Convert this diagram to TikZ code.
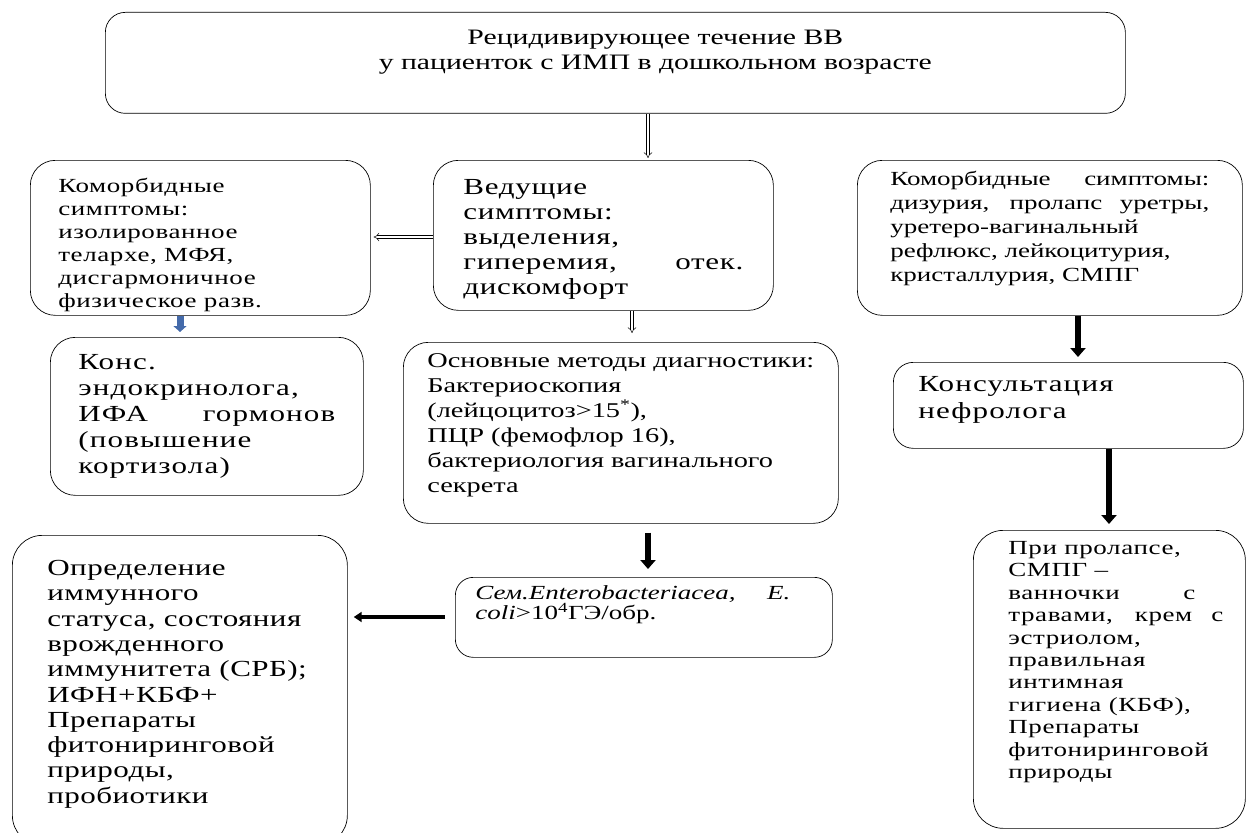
\documentclass[tikz,border=0pt]{standalone}
\usepackage{fontspec}
\setmainfont{Liberation Serif}[FakeStretch=1.35]
\usetikzlibrary{arrows.meta}
\definecolor{arrowblue}{RGB}{68,106,170}
\newcommand{\boxfont}[3]{\fontsize{#1}{#2}\selectfont\addfontfeatures{LetterSpace=#3}}
\newcommand{\boxtext}[3]{\parbox[c][#2pt][t]{#1pt}{\raggedright #3}}
\newcommand{\jline}[1]{\makebox[\linewidth][s]{#1}}
\tikzset{
  box/.style={draw, line width=0.7pt, rounded corners=25pt, anchor=north west, inner sep=0pt},
  hollow/.style={double, double distance=2.5pt, line width=0.5pt, -{Implies}},
  bigarrow/.style={line width=6pt, -{Triangle[width=15pt,length=9pt]}},
}
\begin{document}
\begin{tikzpicture}[x=1pt,y=-1pt]
\useasboundingbox (0,0) rectangle (1246,832);
\node[box, rounded corners=20pt, inner xsep=10pt, inner ysep=18pt] (top) at (105,12) {\hspace*{80pt}\parbox[c][65pt][t]{920pt}{\centering\fontsize{22}{25}\selectfont Рецидивирующее течение ВВ\\ у пациенток с ИМП в дошкольном возрасте}};
\node[box, inner xsep=28pt, inner ysep=18pt] (como) at (30,160) {\boxtext{284}{119}{\boxfont{20}{23}{3}Коморбидные\\ симптомы:\\ изолированное\\ телархе, МФЯ,\\ дисгармоничное\\ физическое разв.}};
\node[box, inner xsep=30pt, inner ysep=19pt] (lead) at (433,160) {\boxtext{280}{112}{\boxfont{23}{25}{3}Ведущие\\ симптомы:\\ выделения,\\ гиперемия,\hfill отек.\\ дискомфорт}};
\node[box, inner xsep=33pt, inner ysep=11pt] (como2) at (857,160) {\boxtext{319}{133}{\boxfont{20}{24}{0}\jline{Коморбидные симптомы:}\\ \jline{дизурия, пролапс уретры,}\\ уретеро-вагинальный\\ рефлюкс, лейкоцитурия,\\ кристаллурия, СМПГ}};
\node[box, inner xsep=28pt, inner ysep=17pt] (endo) at (50,337) {\boxtext{257}{124}{\boxfont{23}{26}{5}Конс.\\ эндокринолога,\\ ИФА\hfill гормонов\\ (повышение\\ кортизола)}};
\node[box, inner xsep=24pt, inner ysep=11pt] (diag) at (403,342) {\boxtext{387}{159}{\boxfont{21}{25}{0}Основные методы диагностики:\\ Бактериоскопия\\ (лейцоцитоз>15\textsuperscript{*}),\\ ПЦР (фемофлор 16),\\ бактериология вагинального\\ секрета}};
\node[box, rounded corners=20pt, inner xsep=25pt, inner ysep=14pt] (nephro) at (893,362) {\boxtext{300}{58}{\boxfont{23}{27}{5}Консультация\\ нефролога}};
\node[box, rounded corners=18pt, inner xsep=20pt, inner ysep=8pt] (entero) at (455,577) {\boxtext{337}{64}{\boxfont{20}{20.5}{0}\makebox[315pt][s]{\textit{Сем.Enterobacteriacea, E.}}\\ \textit{coli}>10\textsuperscript{4}ГЭ/обр.}};
\node[box, rounded corners=30pt, inner xsep=28pt, inner ysep=25pt] (immune) at (12,535) {\hspace*{7pt}\boxtext{272}{260}{\boxfont{23}{25.3}{2}Определение\\ иммунного\\ статуса, состояния\\ врожденного\\ иммунитета (СРБ);\\ ИФН+КБФ+\\ Препараты\\ фитониринговой\\ природы,\\ пробиотики}};
\node[box, rounded corners=30pt, inner xsep=22pt, inner ysep=11pt] (treat) at (973,530) {\hspace*{13pt}\boxtext{215}{276}{\boxfont{20}{22.4}{3}При пролапсе,\\ СМПГ –\\ \makebox[187pt][s]{ванночки с}\\ \jline{травами, крем с}\\ эстриолом,\\ правильная\\ интимная\\ гигиена (КБФ),\\ Препараты\\ фитониринговой\\ природы}};
\coordinate (a1) at (648,0);
\coordinate (a2) at (632,0);
\coordinate (a3) at (1078,0);
\coordinate (a4) at (1109,0);
\coordinate (a5) at (648,0);
\coordinate (a6) at (180,0);
\coordinate (a7) at (0,617);
\coordinate (a8) at (0,237);
\draw[hollow] (top.south -| a1) -- ([yshift=2pt]lead.north -| a1);
\draw[hollow] (lead.west |- a8) -- ([xshift=3pt]como.east |- a8);
\draw[hollow] (lead.south -| a2) -- ([yshift=9pt]diag.north -| a2);
\draw[bigarrow] (como2.south -| a3) -- ([yshift=5pt]nephro.north -| a3);
\draw[bigarrow] (nephro.south -| a4) -- ([yshift=6pt]treat.north -| a4);
\draw[bigarrow] ([yshift=-9pt]diag.south -| a5) -- ([yshift=8pt]entero.north -| a5);
\draw[bigarrow, line width=4pt, -{Triangle[width=10pt,length=8pt]}] ([xshift=-10pt]entero.west |- a7) -- ([xshift=6pt]immune.east |- a7);
\draw[bigarrow, arrowblue, line width=7pt, -{Triangle[width=13pt,length=6pt]}] (como.south -| a6) -- ([yshift=5pt]endo.north -| a6);
\end{tikzpicture}
\end{document}
